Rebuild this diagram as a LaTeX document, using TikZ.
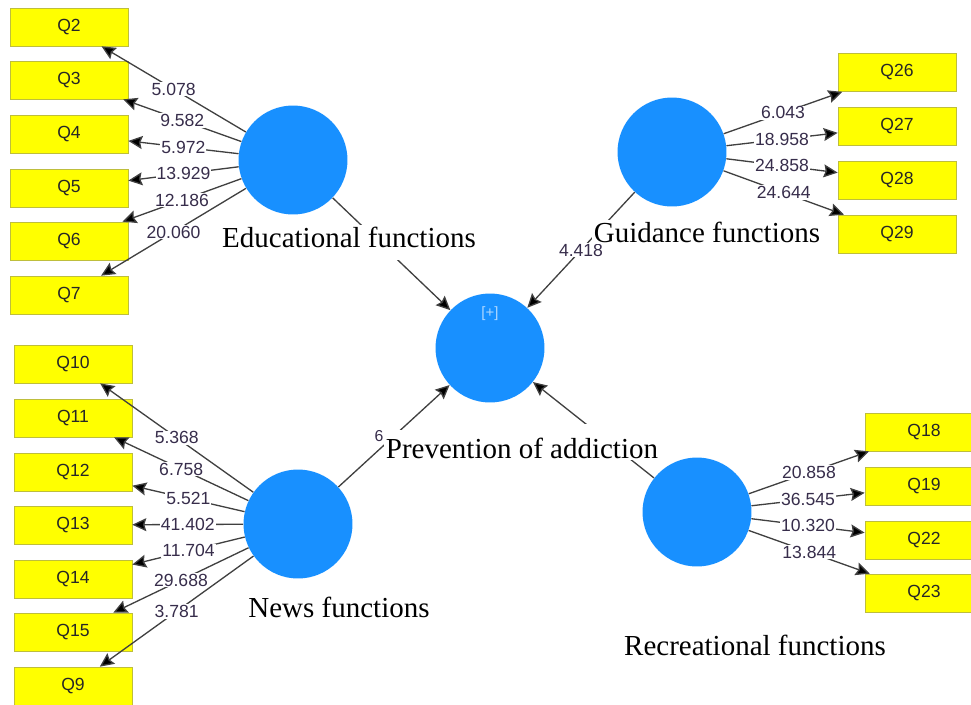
\documentclass[tikz,border=0pt]{standalone}
\usepackage{fontspec}
\setmainfont{Liberation Serif}
\newfontfamily\plssans{Liberation Sans}
\usetikzlibrary{arrows.meta}

\definecolor{lvblue}{RGB}{24,144,255}
\definecolor{itemyellow}{RGB}{255,255,0}
\definecolor{itemedge}{RGB}{190,190,60}
\definecolor{coefcol}{RGB}{55,45,75}

\tikzset{
    item/.style={draw=itemedge, fill=itemyellow, minimum width=2.36cm, minimum height=0.76cm,
        inner sep=0pt, text=black!85, font=\plssans\fontsize{10}{12}\selectfont},
    latent/.style={circle, fill=lvblue, minimum size=2.18cm, inner sep=0pt},
    load/.style={draw=black!75, line width=0.75pt, -{Stealth[length=2.8mm,width=2.6mm,inset=0.4mm,fill=black]}},
    coef/.style={fill=white, inner sep=0.6pt, text=coefcol, font=\plssans\fontsize{10}{11}\selectfont},
    gap/.style={fill=white, minimum width=0.7cm, minimum height=0.24cm, inner sep=0pt},
    lvlabel/.style={fill=white, inner sep=1pt, font=\fontsize{16.5}{18}\selectfont}
}

\begin{document}
\begin{tikzpicture}[x=0.02cm,y=-0.02cm]
    \useasboundingbox (0,0) rectangle (971,704);
    \clip (0,0) rectangle (971,704);

    % latent variables
    \node[latent] (edu)  at (293,160) {};
    \node[latent] (guid) at (672,152) {};
    \node[latent] (news) at (298,524) {};
    \node[latent] (recr) at (697,512) {};
    \node[latent] (prev) at (490,348) {};
    \node[text=white!65!lvblue, font=\plssans\fontsize{8.5}{9}\selectfont] (plus) at (490,314) {[+]};

    % indicators
    \foreach \q/\y in {2/27,3/80,4/134,5/188,6/241,7/295}
        \node[item] (q\q) at (69,\y) {Q\q};
    \foreach \q/\y in {26/72.5,27/126,28/180,29/234}
        \node[item] (q\q) at (897,\y) {Q\q};
    \foreach \q/\y in {10/364,11/418,12/472,13/525,14/579,15/632,9/686}
        \node[item] (q\q) at (73,\y) {Q\q};
    \foreach \q/\y in {18/432,19/486,22/540,23/593}
        \node[item] (q\q) at (924,\y) {Q\q};

    % outer loadings
    \foreach \q/\v in {2/5.078,3/9.582,4/5.972,5/13.929,6/12.186,7/20.060}
        \draw[load] (edu) -- node[coef] {\v} (q\q);
    \foreach \q/\v in {26/6.043,27/18.958,28/24.858,29/24.644}
        \draw[load] (guid) -- node[coef] {\v} (q\q);
    \foreach \q/\v in {10/5.368,11/6.758,12/5.521,13/41.402,14/11.704,15/29.688,9/3.781}
        \draw[load] (news) -- node[coef] {\v} (q\q);
    \foreach \q/\v in {18/20.858,19/36.545,22/10.320,23/13.844}
        \draw[load] (recr) -- node[coef] {\v} (q\q);

    % paths (most coefficients are hidden under the names)
    \draw[load] (edu)  -- node[gap] (edugap) {} (prev);
    \draw[load] (guid) -- node[coef] {4.418} (prev);
    \draw[load] (news) -- node[gap] (newsgap) {} (prev);
    \draw[load] (recr) -- node[gap] (recrgap) {} (prev);
    \node[coef, fill=none, font=\plssans\fontsize{9}{10}\selectfont] (newscoef) at (379,436) {6};

    % names
    \node[lvlabel] (edulabel)  at (349,237) {Educational functions};
    \node[lvlabel] (guidlabel) at (707,232) {Guidance functions};
    \node[lvlabel] (newslabel) at (339,607) {News functions};
    \node[lvlabel] (recrlabel) at (755,645) {Recreational functions};
    \node[lvlabel] (prevlabel) at (522,448) {Prevention of addiction};
\end{tikzpicture}
\end{document}
